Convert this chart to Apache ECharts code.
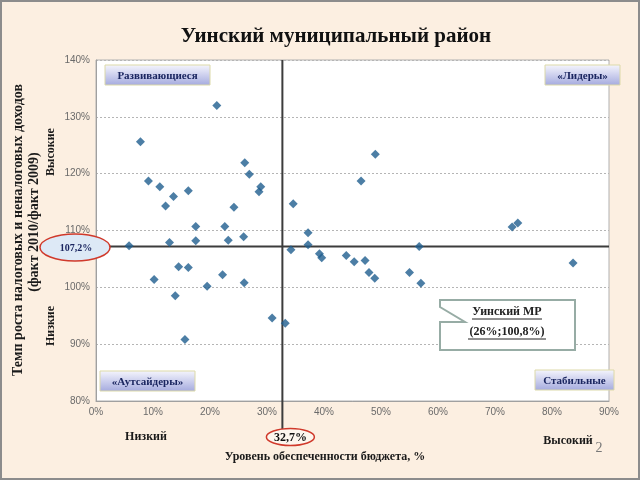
<!DOCTYPE html>
<html><head><meta charset="utf-8">
<script src="https://cdn.jsdelivr.net/npm/echarts@6/dist/echarts.min.js"></script>
<style>html,body{margin:0;padding:0;background:#fcefe1}#c{width:640px;height:480px}</style>
</head><body><div id="c"></div>
<script>
// Level of budget sufficiency, % (x)
const xValues = [21.2, 7.8, 9.2, 11.2, 13.6, 12.2, 16.2, 26.1, 26.9, 28.9, 28.6, 24.2, 17.5, 22.6, 12.9, 17.5,
  23.2, 25.9, 5.8, 34.6, 37.2, 37.2, 34.2, 49.0, 46.5, 39.2, 39.6, 43.9, 45.3, 47.2, 47.9, 48.9,
  55.0, 57.0, 56.7, 73.0, 74.0, 83.7, 33.2, 10.2, 14.5, 16.2, 13.9, 19.5, 22.2, 26.0, 30.9, 15.6];
// Growth rate of tax and non-tax revenues, % (y)
const yValues = [132.0, 125.6, 118.7, 117.7, 116.0, 114.3, 117.0, 121.9, 119.9, 117.7, 116.8, 114.1, 110.7, 110.7, 107.9, 108.2,
  108.3, 108.9, 107.3, 114.7, 109.6, 107.5, 106.6, 123.4, 118.7, 105.9, 105.2, 105.6, 104.5, 104.7, 102.6, 101.6,
  102.6, 100.7, 107.2, 110.6, 111.3, 104.3, 93.7, 101.4, 103.6, 103.5, 98.5, 100.2, 102.2, 100.8, 94.6, 90.8];
const thresholdX = 32.7;
const thresholdY = 107.2;
const thresholdXLabel = '32,7%';
const thresholdYLabel = '107,2%';
const quadrantLabels = ['Развивающиеся', '«Лидеры»', '«Аутсайдеры»', 'Стабильные'];
const titleText = 'Уинский муниципальный район';
const yTitle1 = 'Темп роста налоговых и неналоговых доходов';
const yTitle2 = '(факт 2010/факт 2009)';
const xTitle = 'Уровень обеспеченности бюджета, %';
const calloutLines = ['Уинский МР', '(26%;100,8%)'];

const serif = '"Liberation Serif","Times New Roman",serif';
const sans = '"Liberation Sans",Arial,sans-serif';
const chart = echarts.init(document.getElementById('c'));
const points = xValues.map((x, i) => [x, yValues[i]]);

chart.setOption({
  backgroundColor: '#fcefe1',
  animation: false,
  grid: {left: 96, right: 31, top: 60, bottom: 79, show: true, backgroundColor: '#ffffff', borderColor: '#b0b0b0', borderWidth: 1},
  xAxis: {type: 'value', min: 0, max: 90, interval: 10,
    axisLabel: {formatter: '{value}%', color: '#6a6a6a', fontSize: 10, fontFamily: sans, margin: 6},
    axisLine: {show: true, lineStyle: {color: '#a0a0a0'}}, axisTick: {show: false}, splitLine: {show: false}},
  yAxis: {type: 'value', min: 80, max: 140, interval: 10,
    axisLabel: {formatter: '{value}%', color: '#6a6a6a', fontSize: 10, fontFamily: sans, margin: 6},
    axisLine: {show: true, lineStyle: {color: '#a0a0a0'}}, axisTick: {show: false},
    splitLine: {show: true, lineStyle: {type: [2, 2], color: '#b5b5b5'}}},
  series: [{type: 'scatter', data: points, symbol: 'diamond', symbolSize: 9, z: 5,
    itemStyle: {color: '#1f5e8e'}}]
});

const p = chart.convertToPixel({gridIndex: 0}, [thresholdX, thresholdY]);
const tl = chart.convertToPixel({gridIndex: 0}, [0, 140]);
const br = chart.convertToPixel({gridIndex: 0}, [90, 80]);
const lx = p[0], ly = p[1];

function box(x, y, w, h, label) {
  return {type: 'group', z: 20, children: [
    {type: 'rect', shape: {x: x, y: y, width: w, height: h},
      style: {fill: new echarts.graphic.LinearGradient(0, 0, 0, 1, [{offset: 0, color: '#f6f6fd'}, {offset: 1, color: '#a4aade'}]),
        stroke: '#dcd9a8', lineWidth: 1}},
    {type: 'text', x: x + w / 2, y: y + h / 2 + 1,
      style: {text: label, fill: '#1b2660', font: 'bold 11px ' + serif, textAlign: 'center', textVerticalAlign: 'middle'}}
  ]};
}
function txt(x, y, t, font, fill, rot) {
  return {type: 'text', x: x, y: y, rotation: rot || 0, z: 20,
    style: {text: t, font: font, fill: fill || '#1a1a1a', textAlign: 'center', textVerticalAlign: 'middle'}};
}

chart.setOption({graphic: [
  {type: 'rect', z: 30, shape: {x: 1, y: 1, width: 638, height: 478}, style: {fill: 'none', stroke: '#8c8c8c', lineWidth: 2}},
  txt(336, 37, titleText, 'bold 21px ' + serif, '#111'),
  // threshold lines
  {type: 'line', z: 3, shape: {x1: lx, y1: tl[1], x2: lx, y2: 430}, style: {stroke: '#3c3c3c', lineWidth: 2}},
  {type: 'line', z: 3, shape: {x1: 100, y1: ly, x2: br[0], y2: ly}, style: {stroke: '#3c3c3c', lineWidth: 2}},
  {type: 'ellipse', z: 20, shape: {cx: 75, cy: ly + 1, rx: 35, ry: 13.5}, style: {fill: '#dde9f6', stroke: '#d0392b', lineWidth: 1.5}},
  txt(76, ly + 2, thresholdYLabel, 'bold 10px ' + serif, '#1b2660'),
  {type: 'ellipse', z: 20, shape: {cx: lx + 8, cy: 437, rx: 24, ry: 8.5}, style: {fill: '#fdf6ee', stroke: '#d0392b', lineWidth: 1.5}},
  txt(lx + 8, 438, thresholdXLabel, 'bold 12px ' + serif, '#111'),
  // quadrant labels
  box(105, 65, 105, 20, quadrantLabels[0]),
  box(545, 65, 75, 20, quadrantLabels[1]),
  box(100, 371, 95, 20, quadrantLabels[2]),
  box(535, 370, 79, 20, quadrantLabels[3]),
  // axis titles
  txt(18, 230, yTitle1, 'bold 14px ' + serif, '#1a1a1a', Math.PI / 2),
  txt(34, 222, yTitle2, 'bold 14px ' + serif, '#1a1a1a', Math.PI / 2),
  txt(51, 152, 'Высокие', 'bold 12px ' + serif, '#1a1a1a', Math.PI / 2),
  txt(51, 326, 'Низкие', 'bold 12px ' + serif, '#1a1a1a', Math.PI / 2),
  txt(146, 437, 'Низкий', 'bold 12px ' + serif),
  txt(568, 441, 'Высокий', 'bold 12px ' + serif),
  txt(599, 448, '2', '14px ' + serif, '#777'),
  txt(325, 457, xTitle, 'bold 12px ' + serif),
  // callout
  {type: 'polygon', z: 20, shape: {points: [[440, 300], [575, 300], [575, 350], [440, 350], [440, 322], [465, 322], [440, 307]]},
    style: {fill: '#ffffff', stroke: '#97aca5', lineWidth: 2}},
  txt(507, 312, calloutLines[0], 'bold 12px ' + serif, '#222'),
  {type: 'line', z: 21, shape: {x1: 472, y1: 319, x2: 542, y2: 319}, style: {stroke: '#222', lineWidth: 1}},
  txt(507, 332, calloutLines[1], 'bold 12px ' + serif, '#222'),
  {type: 'line', z: 21, shape: {x1: 468, y1: 339, x2: 546, y2: 339}, style: {stroke: '#222', lineWidth: 1}}
]});
</script></body></html>
